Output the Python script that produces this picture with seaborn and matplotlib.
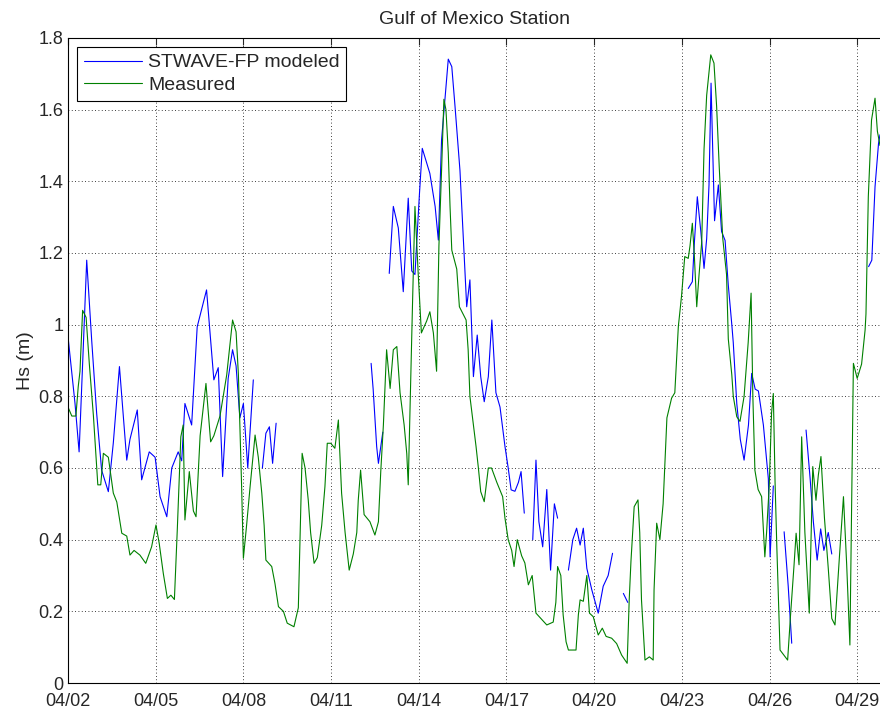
import numpy as np
import pandas as pd
import matplotlib
matplotlib.use('Agg')
import matplotlib.pyplot as plt
from matplotlib.lines import Line2D
import seaborn as sns

# Station record: days after 04/02 00:00 and significant wave height (m)
# None marks a gap in the modeled series
model_day = [0.0, 0.24, 0.38, 0.50, 0.64, 0.81, 0.98, 1.15, 1.38, 1.55, 1.76, 2.01, 2.12, 2.37, 2.52,
             2.78, 2.98, 3.15, 3.38, 3.55, 3.77, 3.89, 4.00, 4.23, 4.42, 4.74, 4.99, 5.14, 5.29, 5.48,
             5.63, 5.75, 5.88, 6.00, 6.15, 6.34, None,
             6.65, 6.77, 6.89, 7.00, 7.12, None,
             10.37, 10.44, 10.56, 10.62, 10.77, None,
             10.99, 11.13, 11.30, 11.47, 11.64, 11.76, 11.87, 12.02, 12.12, 12.38, 12.56, 12.67, 12.78,
             13.01, 13.13, 13.24, 13.41, 13.58, 13.64, 13.75, 13.87, 14.00, 14.12, 14.24, 14.38, 14.50,
             14.64, 14.78, 14.95, 15.06, 15.16, 15.29, 15.41, 15.50, 15.61, None,
             15.90, 16.01, 16.11, 16.24, 16.38, 16.51, 16.64, 16.75, None,
             17.12, 17.27, 17.40, 17.52, 17.63, 17.75, 17.92, 18.14, 18.31, 18.48, 18.63, None,
             19.00, 19.15, None,
             21.22, 21.36, 21.43, 21.53, 21.65, 21.76, 21.85, 21.93, 22.00, 22.05, 22.12, 22.25, 22.36,
             22.48, 22.59, 22.71, 22.76, 22.88, 23.00, 23.13, 23.28, 23.39, 23.51, 23.62, 23.79, 23.96,
             24.02, 24.13, None,
             24.50, 24.64, 24.76, None,
             25.25, 25.39, 25.50, 25.63, 25.75, 25.86, 26.01, 26.13, None,
             27.39, 27.50, 27.61, 27.73, 27.78]
model_hs = [0.967, 0.78, 0.645, 0.89, 1.18, 0.957, 0.753, 0.594, 0.534, 0.67, 0.883, 0.622, 0.68, 0.762, 0.567,
            0.645, 0.63, 0.52, 0.464, 0.6, 0.645, 0.62, 0.78, 0.72, 0.994, 1.097, 0.846, 0.88, 0.576, 0.85,
            0.93, 0.885, 0.74, 0.78, 0.6, 0.846, None,
            0.6, 0.697, 0.715, 0.613, 0.725, None,
            0.892, 0.82, 0.66, 0.613, 0.7, None,
            1.143, 1.33, 1.27, 1.092, 1.353, 1.15, 1.14, 1.36, 1.492, 1.422, 1.33, 1.236, 1.515,
            1.741, 1.72, 1.61, 1.43, 1.15, 1.05, 1.125, 0.855, 0.971, 0.855, 0.785, 0.855, 1.013,
            0.81, 0.77, 0.66, 0.6, 0.539, 0.535, 0.56, 0.59, 0.474, None,
            0.4, 0.622, 0.45, 0.38, 0.54, 0.315, 0.5, 0.46, None,
            0.315, 0.4, 0.432, 0.385, 0.432, 0.32, 0.26, 0.195, 0.27, 0.3, 0.362, None,
            0.25, 0.225, None,
            1.101, 1.12, 1.23, 1.357, 1.26, 1.157, 1.24, 1.39, 1.674, 1.51, 1.29, 1.39, 1.26,
            1.235, 1.11, 1.0, 0.95, 0.78, 0.68, 0.622, 0.72, 0.864, 0.82, 0.815, 0.72, 0.57,
            0.352, 0.55, None,
            0.422, 0.27, 0.111, None,
            0.706, 0.57, 0.45, 0.343, 0.43, 0.37, 0.42, 0.36, None,
            1.162, 1.18, 1.385, 1.506, 1.53]

meas_day = [0.0, 0.13, 0.27, 0.35, 0.41, 0.50, 0.62, 0.73, 0.87, 1.02, 1.12, 1.21, 1.38, 1.55, 1.67,
            1.84, 2.01, 2.12, 2.26, 2.46, 2.66, 2.86, 3.01, 3.12, 3.26, 3.40, 3.52, 3.64, 3.74, 3.86,
            3.94, 4.00, 4.15, 4.29, 4.38, 4.52, 4.72, 4.88, 4.99, 5.20, 5.43, 5.63, 5.75, 5.83, 5.94,
            6.00, 6.11, 6.23, 6.40, 6.51, 6.63, 6.71, 6.77, 6.97, 7.08, 7.20, 7.37, 7.50, 7.73, 7.88,
            7.94, 8.01, 8.11, 8.22, 8.30, 8.42, 8.53, 8.68, 8.79, 8.87, 8.99, 9.13, 9.25, 9.36, 9.48,
            9.62, 9.76, 9.88, 9.93, 10.01, 10.13, 10.33, 10.50, 10.62, 10.70, 10.79, 10.90, 11.02, 11.13,
            11.25, 11.36, 11.50, 11.59, 11.64, 11.72, 11.79, 11.87, 11.98, 12.09, 12.27, 12.38, 12.50,
            12.61, 12.69, 12.78, 12.86, 12.93, 13.01, 13.07, 13.13, 13.30, 13.39, 13.62, 13.69, 13.75,
            13.87, 13.96, 14.04, 14.12, 14.24, 14.38, 14.49, 14.67, 14.87, 14.95, 15.06, 15.18, 15.26,
            15.37, 15.52, 15.63, 15.75, 15.88, 16.01, 16.21, 16.38, 16.60, 16.69, 16.75, 16.86, 16.94,
            17.04, 17.12, 17.38, 17.46, 17.52, 17.63, 17.75, 17.84, 17.97, 18.14, 18.28, 18.41, 18.60,
            18.77, 18.94, 19.13, 19.20, 19.26, 19.37, 19.50, 19.56, 19.62, 19.74, 19.89, 20.02, 20.05,
            20.14, 20.25, 20.36, 20.49, 20.65, 20.76, 20.88, 20.99, 21.10, 21.22, 21.28, 21.36, 21.43,
            21.51, 21.59, 21.68, 21.76, 21.85, 21.99, 22.10, 22.19, 22.28, 22.40, 22.53, 22.59, 22.71,
            22.76, 22.88, 22.99, 23.13, 23.27, 23.37, 23.43, 23.50, 23.61, 23.73, 23.84, 23.90, 23.99,
            24.07, 24.13, 24.19, 24.25, 24.36, 24.47, 24.62, 24.72, 24.84, 24.91, 25.01, 25.10, 25.21,
            25.36, 25.48, 25.59, 25.67, 25.76, 25.88, 26.01, 26.13, 26.24, 26.39, 26.53, 26.64, 26.75,
            26.87, 27.00, 27.15, 27.27, 27.30, 27.38, 27.49, 27.61, 27.69, 27.78]
meas_hs = [0.77, 0.745, 0.745, 0.827, 0.87, 1.04, 1.02, 0.89, 0.745, 0.553, 0.553, 0.641, 0.63, 0.53, 0.505,
           0.418, 0.41, 0.357, 0.37, 0.357, 0.334, 0.38, 0.441, 0.39, 0.306, 0.236, 0.245, 0.233, 0.43, 0.687,
           0.72, 0.455, 0.59, 0.48, 0.464, 0.69, 0.836, 0.673, 0.69, 0.745, 0.86, 1.013, 0.98, 0.86, 0.548,
           0.348, 0.44, 0.548, 0.692, 0.63, 0.53, 0.44, 0.343, 0.325, 0.278, 0.213, 0.2, 0.167, 0.157, 0.21,
           0.41, 0.641, 0.6, 0.51, 0.42, 0.334, 0.35, 0.44, 0.548, 0.669, 0.669, 0.655, 0.734, 0.53, 0.42,
           0.315, 0.36, 0.42, 0.51, 0.594, 0.47, 0.45, 0.413, 0.45, 0.59, 0.72, 0.93, 0.822, 0.93,
           0.939, 0.81, 0.72, 0.64, 0.553, 0.83, 1.07, 1.33, 1.144, 0.977, 1.01, 1.036, 0.977,
           0.87, 1.22, 1.43, 1.629, 1.6, 1.48, 1.33, 1.208, 1.155, 1.05, 1.013, 0.93, 0.8,
           0.72, 0.66, 0.6, 0.534, 0.506, 0.6, 0.6, 0.56, 0.52, 0.46, 0.4, 0.37, 0.325,
           0.4, 0.355, 0.335, 0.274, 0.3, 0.195, 0.177, 0.162, 0.17, 0.225, 0.325, 0.3, 0.19,
           0.115, 0.092, 0.092, 0.19, 0.232, 0.228, 0.3, 0.195, 0.185, 0.134, 0.153, 0.13, 0.125,
           0.11, 0.078, 0.055, 0.232, 0.34, 0.492, 0.511, 0.42, 0.232, 0.064, 0.073, 0.064, 0.26,
           0.446, 0.4, 0.5, 0.74, 0.795, 0.81, 0.994, 1.08, 1.19, 1.185, 1.22, 1.283, 1.19,
           1.05, 1.14, 1.23, 1.49, 1.64, 1.753, 1.73, 1.61, 1.44, 1.241, 1.14, 0.96, 0.86,
           0.8, 0.743, 0.73, 0.8, 0.95, 1.088, 0.8, 0.594, 0.54, 0.52, 0.352, 0.42, 0.55,
           0.753, 0.808, 0.56, 0.38, 0.092, 0.08, 0.064, 0.19, 0.33, 0.418, 0.33, 0.687, 0.42,
           0.195, 0.604, 0.51, 0.58, 0.632, 0.46, 0.32, 0.18, 0.162, 0.35, 0.52, 0.33, 0.106,
           0.892, 0.85, 0.89, 0.985, 1.03, 1.357, 1.571, 1.632, 1.54, 1.5]

series_names = ['STWAVE-FP modeled', 'Measured']
y_tick_labels = ['0', '0.2', '0.4', '0.6', '0.8', '1', '1.2', '1.4', '1.6', '1.8']
start = pd.Timestamp('2010-04-02')

sns.set_style('white')
plt.rcParams['font.family'] = ['Liberation Sans', 'DejaVu Sans']

# build frames, split the modeled record into its unbroken pieces
model = pd.DataFrame({'day': model_day, 'hs': model_hs}, dtype=float)
model['seg'] = model['hs'].isna().cumsum()
model = model.dropna().copy()
model['time'] = start + pd.to_timedelta(model['day'], unit='D')

meas = pd.DataFrame({'day': meas_day, 'hs': meas_hs})
meas['time'] = start + pd.to_timedelta(meas['day'], unit='D')

fig = plt.figure(figsize=(8.8, 7.12), dpi=100)
ax = fig.add_axes([68 / 880, 29 / 712, 812 / 880, 645 / 712])

sns.lineplot(data=model, x='time', y='hs', units='seg', estimator=None, sort=False,
             color='#0000ff', linewidth=0.8, ax=ax)
sns.lineplot(data=meas, x='time', y='hs', estimator=None, sort=False,
             color='#008000', linewidth=0.8, ax=ax)

ax.set_xlim(start, start + pd.Timedelta(days=27.78))
ax.set_ylim(0, 1.8)
ax.set_yticks(np.arange(0, 1.81, 0.2))
ax.set_yticklabels(y_tick_labels)
x_ticks = pd.date_range(start, periods=10, freq='3D')
ax.set_xticks(x_ticks)
ax.set_xticklabels([t.strftime('%m/%d') for t in x_ticks])

ax.grid(True, color='k', linestyle=(0, (1, 3)), linewidth=0.6)
ax.tick_params(direction='in', length=5, width=0.8, top=True, right=False, labelsize=13)
ax.tick_params(axis='x', pad=7.5)
ax.tick_params(axis='y', pad=3.5)
for side in ['left', 'bottom', 'top']:
    ax.spines[side].set_color('k')
    ax.spines[side].set_linewidth(0.8)
ax.spines['right'].set_visible(False)

ax.set_xlabel('')
ax.set_ylabel('Hs (m)', fontsize=14, labelpad=3)
ax.set_title('Gulf of Mexico Station', fontsize=14, pad=10)

handles = [Line2D([], [], color='#0000ff', linewidth=0.8),
           Line2D([], [], color='#008000', linewidth=0.8)]
leg = ax.legend(handles, series_names, loc='upper left', bbox_to_anchor=(0.011, 0.986),
                borderaxespad=0, fancybox=False, edgecolor='k', framealpha=1, fontsize=14,
                handlelength=3.0, handletextpad=0.3, borderpad=0.35, labelspacing=0.25)
leg.get_frame().set_linewidth(0.8)

fig.savefig('out.png', dpi=100)
